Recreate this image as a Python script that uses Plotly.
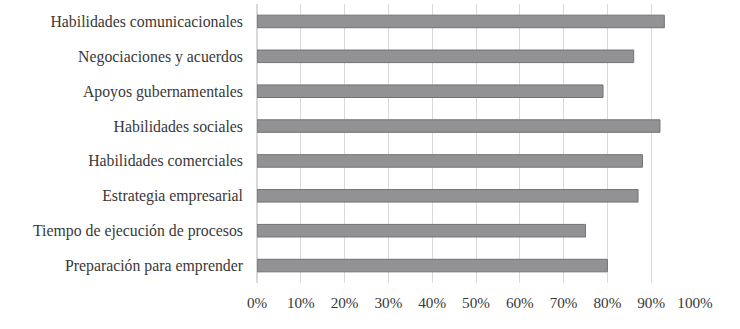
import plotly.graph_objects as go

categories = [
    "Habilidades comunicacionales",
    "Negociaciones y acuerdos",
    "Apoyos gubernamentales",
    "Habilidades sociales",
    "Habilidades comerciales",
    "Estrategia empresarial",
    "Tiempo de ejecución de procesos",
    "Preparación para emprender",
]
values = [93, 86, 79, 92, 88, 87, 75, 80]
tick_vals = [0, 10, 20, 30, 40, 50, 60, 70, 80, 90, 100]
tick_text = [f"{v}%" for v in tick_vals]

fig = go.Figure(go.Bar(
    x=values,
    y=categories,
    orientation="h",
    marker=dict(color="#929295", line=dict(color="#737376", width=1)),
    width=0.36,
    hoverinfo="skip",
))

fig.update_layout(
    width=740, height=329,
    margin=dict(l=257, r=45, t=4, b=46, autoexpand=False),
    paper_bgcolor="white",
    plot_bgcolor="white",
    font=dict(family="Liberation Serif", size=15.8, color="#383838"),
    showlegend=False,
)
fig.update_xaxes(
    range=[0, 100],
    tickvals=tick_vals,
    ticktext=tick_text,
    tickfont=dict(size=15.2),
    showgrid=True,
    gridcolor="#d9d9d9",
    gridwidth=1,
    zeroline=True,
    zerolinecolor="#d9d9d9",
    showline=False,
    ticks="",
    ticklabelstandoff=9,
    fixedrange=True,
)
fig.update_yaxes(
    categoryorder="array",
    categoryarray=categories[::-1],
    showgrid=False,
    showline=False,
    ticks="",
    ticklabelstandoff=13,
    range=[-0.5, 7.5],
    fixedrange=True,
)

fig.write_html(
    "out.html",
    config={"displayModeBar": False},
    post_script="document.body.style.margin='0';document.body.style.padding='0';",
)
